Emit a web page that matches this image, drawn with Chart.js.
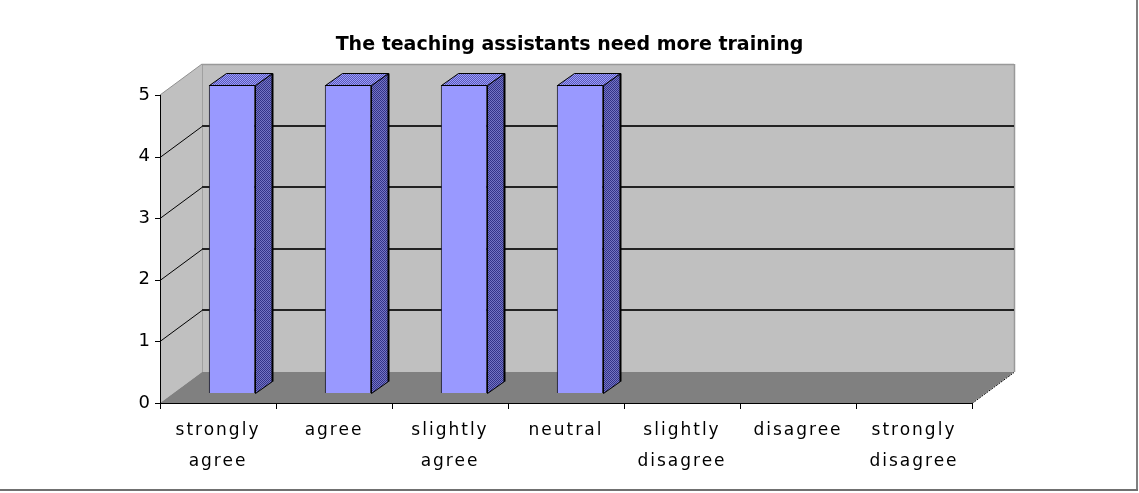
<!DOCTYPE html>
<html>
<head>
<meta charset="utf-8">
<script src="https://cdn.jsdelivr.net/npm/chart.js@4.4.1/dist/chart.umd.min.js"></script>
<style>
  html, body { margin: 0; padding: 0; background: #fff; }
  #wrap { width: 1139px; height: 493px; }
</style>
</head>
<body>
<div id="wrap"><canvas id="chart" width="1139" height="493"></canvas></div>
<script>
// chart data
const chartTitle = 'The teaching assistants need more training';
const categories = [
    ['strongly', 'agree'],
    ['agree'],
    ['slightly', 'agree'],
    ['neutral'],
    ['slightly', 'disagree'],
    ['disagree'],
    ['strongly', 'disagree']
];
const responses = [5, 5, 5, 5, 0, 0, 0];
const yTicks = [0, 1, 2, 3, 4, 5];

// depth of the 3d box and of the bars
const DX = 42, DY = 31;
const BAR_DX = 14, BAR_DY = 10;
const SIDE_DX = 17, SIDE_DY = 12;

function ditherPattern(ctx, a, b) {
    // small 2x2 checker, like the old excel fill
    let c = document.createElement('canvas');
    c.width = 2; c.height = 2;
    let p = c.getContext('2d');
    p.fillStyle = a; p.fillRect(0, 0, 2, 2);
    p.fillStyle = b; p.fillRect(1, 0, 1, 1); p.fillRect(0, 1, 1, 1);
    return ctx.createPattern(c, 'repeat');
}

function poly(ctx, pts, fill, stroke) {
    ctx.beginPath();
    ctx.moveTo(pts[0][0], pts[0][1]);
    for (let i = 1; i < pts.length; i++) ctx.lineTo(pts[i][0], pts[i][1]);
    ctx.closePath();
    if (fill) { ctx.fillStyle = fill; ctx.fill(); }
    if (stroke) { ctx.strokeStyle = stroke; ctx.lineWidth = 1; ctx.stroke(); }
}

function line(ctx, x1, y1, x2, y2, color, w) {
    ctx.beginPath();
    ctx.moveTo(x1, y1);
    ctx.lineTo(x2, y2);
    ctx.strokeStyle = color;
    ctx.lineWidth = w;
    ctx.stroke();
}

const box3d = {
    id: 'box3d',
    beforeDraw(chart) {
        chart.ctx.letterSpacing = '0px';
    },
    beforeDatasetsDraw(chart) {
        const ctx = chart.ctx;
        const {left: L, right: R, top: T, bottom: B} = chart.chartArea;
        const yScale = chart.scales.y;
        const xScale = chart.scales.x;
        ctx.save();

        // left wall, back wall, floor
        poly(ctx, [[L, T], [L + DX, T - DY], [L + DX, B - DY], [L, B]], '#c0c0c0');
        poly(ctx, [[L + DX, T - DY], [R + DX, T - DY], [R + DX, B - DY], [L + DX, B - DY]], '#c0c0c0');
        poly(ctx, [[L, B], [R, B], [R + DX, B - DY], [L + DX, B - DY]], '#808080');

        // wall edges
        line(ctx, L + DX + 0.5, T - DY, L + DX + 0.5, B - DY, '#a0a0a0', 1);
        line(ctx, L + DX, T - DY + 0.5, R + DX, T - DY + 0.5, '#999999', 1.5);
        line(ctx, R + DX + 0.5, T - DY, R + DX + 0.5, B - DY, '#999999', 1.5);
        line(ctx, L, T, L + DX, T - DY, '#909090', 1);

        // gridlines on back wall + diagonals on the side wall
        yTicks.forEach(v => {
            if (v === 0 || v === yScale.max) return;
            let py = Math.round(yScale.getPixelForValue(v));
            line(ctx, L + DX, py - DY, R + DX, py - DY, '#222222', 2);
            line(ctx, L, py + 0.5, L + DX, py - DY + 0.5, '#000000', 1);
        });

        // front axes with tick marks
        line(ctx, L + 0.5, T, L + 0.5, B + 1, '#000000', 1);
        yTicks.forEach(v => {
            let py = Math.round(yScale.getPixelForValue(v)) + 0.5;
            line(ctx, L - 5, py, L + 1, py, '#000000', 1);
        });
        line(ctx, L, B + 0.5, R, B + 0.5, '#000000', 1);
        let step = (R - L) / categories.length;
        for (let k = 0; k <= categories.length; k++) {
            let px = Math.round(L + k * step) + 0.5;
            line(ctx, px, B, px, B + 6, '#000000', 1);
        }
        ctx.setLineDash([2, 1]);
        line(ctx, R, B + 0.5, R + DX, B - DY + 0.5, '#000000', 1);
        ctx.setLineDash([]);

        // side and top faces of the bars
        const sideFill = ditherPattern(ctx, '#333388', '#7474c4');
        const topFill = ditherPattern(ctx, '#9999ff', '#5c5cb4');
        const meta = chart.getDatasetMeta(0);
        meta.data.forEach((bar, i) => {
            if (!responses[i]) return;
            const p = bar.getProps(['x', 'y', 'base', 'width'], true);
            let bl = Math.round(p.x - p.width / 2) + BAR_DX + 0.5;
            let br = Math.round(p.x + p.width / 2) + BAR_DX + 0.5;
            let bt = Math.round(p.y) - BAR_DY + 0.5;
            let bb = Math.round(p.base) - BAR_DY + 0.5;
            poly(ctx, [[br, bt], [br + SIDE_DX, bt - SIDE_DY], [br + SIDE_DX, bb - SIDE_DY], [br, bb]], sideFill, '#000000');
            poly(ctx, [[bl, bt], [bl + SIDE_DX, bt - SIDE_DY], [br + SIDE_DX, bt - SIDE_DY], [br, bt]], topFill, '#000000');
            line(ctx, br + SIDE_DX, bt - SIDE_DY, br + SIDE_DX, bb - SIDE_DY, '#000000', 2);
        });
        ctx.restore();

        // front faces are drawn by chart.js, pushed into the middle of the box
        ctx.save();
        ctx.translate(BAR_DX, -BAR_DY);
    },
    afterDatasetsDraw(chart) {
        chart.ctx.restore();
        // the old chart font is widely spaced
        chart.ctx.letterSpacing = '2px';
    },
    afterDraw(chart) {
        const ctx = chart.ctx;
        ctx.letterSpacing = '0px';
        // frame lines on the right and bottom of the picture
        line(ctx, 1137, 0, 1137, 491, '#808080', 2);
        line(ctx, 0, 490, 1138, 490, '#707070', 2);
    }
};

onload = function() {
    const canvas = document.querySelector('#chart');
    new Chart(canvas, {
        type: 'bar',
        data: {
            labels: categories,
            datasets: [{
                data: responses,
                backgroundColor: '#9999ff',
                borderColor: '#000000',
                borderWidth: 1,
                barPercentage: 0.4,
                categoryPercentage: 1.0,
                clip: false
            }]
        },
        options: {
            responsive: false,
            animation: false,
            devicePixelRatio: 1,
            layout: { padding: 0 },
            plugins: {
                legend: { display: false },
                tooltip: { enabled: false },
                title: {
                    display: true,
                    text: chartTitle,
                    color: '#000000',
                    font: { family: 'DejaVu Sans', size: 19, weight: 'bold', lineHeight: '22px' },
                    padding: { top: 34, bottom: 39 }
                }
            },
            scales: {
                x: {
                    grid: { display: false, drawTicks: false },
                    border: { display: false },
                    ticks: {
                        color: '#000000',
                        font: { family: 'DejaVu Sans', size: 17, lineHeight: '31px' },
                        padding: 12,
                        maxRotation: 0,
                        autoSkip: false,
                        z: 1
                    },
                    afterFit: s => { s.height = 90; }
                },
                y: {
                    min: 0,
                    max: 5,
                    grid: { display: false, drawTicks: false },
                    border: { display: false },
                    ticks: {
                        stepSize: 1,
                        color: '#000000',
                        font: { family: 'DejaVu Sans', size: 18 },
                        padding: 8,
                        z: 1
                    },
                    afterFit: s => { s.width = 160; }
                },
                // empty axis on the right, only keeps the room beside the box
                yRight: {
                    position: 'right',
                    display: true,
                    grid: { display: false },
                    border: { display: false },
                    ticks: { display: false },
                    afterFit: s => { s.width = 167; }
                }
            }
        },
        plugins: [box3d]
    });
};
</script>
</body>
</html>
